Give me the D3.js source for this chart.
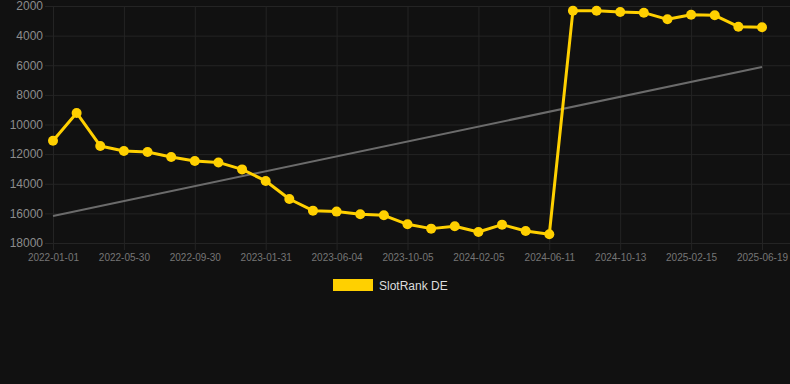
<!DOCTYPE html>
<html>
<head>
<meta charset="utf-8">
<script src="https://cdn.jsdelivr.net/npm/d3@7"></script>
<style>
  html, body { margin: 0; padding: 0; background: #111111; }
  svg { display: block; font-family: "Liberation Sans", Arial, Helvetica, sans-serif; }
</style>
</head>
<body>
<svg id="chart" width="790" height="384"></svg>
<script>
// categories (one point per entry), labels shown every 3rd
var dates = [
  "2022-01-01", "2022-02-19", "2022-04-09", "2022-05-30", "2022-07-10", "2022-08-20",
  "2022-09-30", "2022-11-10", "2022-12-21", "2023-01-31", "2023-03-14", "2023-04-24",
  "2023-06-04", "2023-07-15", "2023-08-25", "2023-10-05", "2023-11-15", "2023-12-26",
  "2024-02-05", "2024-03-18", "2024-04-30", "2024-06-11", "2024-07-22", "2024-09-01",
  "2024-10-13", "2024-11-23", "2025-01-04", "2025-02-15", "2025-03-28", "2025-05-08",
  "2025-06-19"
];
var ranks = [
  11100, 9220, 11450, 11790, 11860, 12190, 12460, 12560, 13030, 13810, 15030, 15815,
  15880, 16060, 16130, 16740, 17030, 16870, 17255, 16760, 17190, 17410,
  2315, 2315, 2400, 2450, 2900, 2585, 2630, 3395, 3440
];
var trend = [16175, 6120]; // start / end of the trend line
var yTicks = [2000, 4000, 6000, 8000, 10000, 12000, 14000, 16000, 18000];
var seriesName = "SlotRank DE";

var svg = d3.select("#chart");
var x = d3.scalePoint().domain(dates).range([53, 762]);
var y = d3.scaleLinear().domain([2000, 18000]).range([6, 243]);

var labelDates = dates.filter(function(d, i){ return i % 3 == 0; });

// grid
var grid = svg.append("g").attr("class", "grid");
grid.selectAll("line.h").data(yTicks).enter().append("line")
    .attr("x1", 45).attr("x2", 790)
    .attr("y1", function(d){ return y(d) + 0.5; })
    .attr("y2", function(d){ return y(d) + 0.5; })
    .attr("stroke", "#242424").attr("stroke-width", 1);
grid.selectAll("line.v").data(labelDates).enter().append("line")
    .attr("x1", function(d){ return x(d) + 0.5; })
    .attr("x2", function(d){ return x(d) + 0.5; })
    .attr("y1", 6).attr("y2", 250)
    .attr("stroke", "#242424").attr("stroke-width", 1);

// y axis
var yAxis = d3.axisLeft(y).tickValues(yTicks).tickFormat(d3.format("d")).tickSize(0).tickPadding(0);
svg.append("g")
    .attr("transform", "translate(43,0)")
    .call(yAxis)
    .call(function(g){
        g.select(".domain").remove();
        g.selectAll("text").attr("fill", "#8c8c8c").attr("font-size", 12)
            .attr("font-family", "Liberation Sans, Arial, sans-serif");
    });

// x axis
var xAxis = d3.axisBottom(x).tickValues(labelDates).tickSize(0).tickPadding(0);
svg.append("g")
    .attr("transform", "translate(0,254)")
    .call(xAxis)
    .call(function(g){
        g.select(".domain").remove();
        g.selectAll("text").attr("fill", "#767676").attr("font-size", 10)
            .attr("font-family", "Liberation Sans, Arial, sans-serif");
    });

// trend line
svg.append("line")
    .attr("x1", x(dates[0])).attr("y1", y(trend[0]))
    .attr("x2", x(dates[dates.length - 1])).attr("y2", y(trend[1]))
    .attr("stroke", "#6b6b6b").attr("stroke-width", 2);

// series
var pts = dates.map(function(d, i){ return {date: d, value: ranks[i]}; });
var line = d3.line()
    .x(function(d){ return x(d.date); })
    .y(function(d){ return y(d.value); });
svg.append("path")
    .datum(pts)
    .attr("d", line)
    .attr("fill", "none")
    .attr("stroke", "#ffd000")
    .attr("stroke-width", 3)
    .attr("stroke-linejoin", "round");
svg.append("g").selectAll("circle").data(pts).enter().append("circle")
    .attr("cx", function(d){ return x(d.date); })
    .attr("cy", function(d){ return y(d.value); })
    .attr("r", 5)
    .attr("fill", "#ffd000");

// legend
var legend = svg.append("g").attr("transform", "translate(333,279)");
legend.append("rect").attr("width", 40).attr("height", 12).attr("fill", "#ffd000");
legend.append("text")
    .attr("x", 46).attr("y", 10.5)
    .attr("font-size", 12)
    .attr("fill", "#dddddd")
    .text(seriesName);
</script>
</body>
</html>
